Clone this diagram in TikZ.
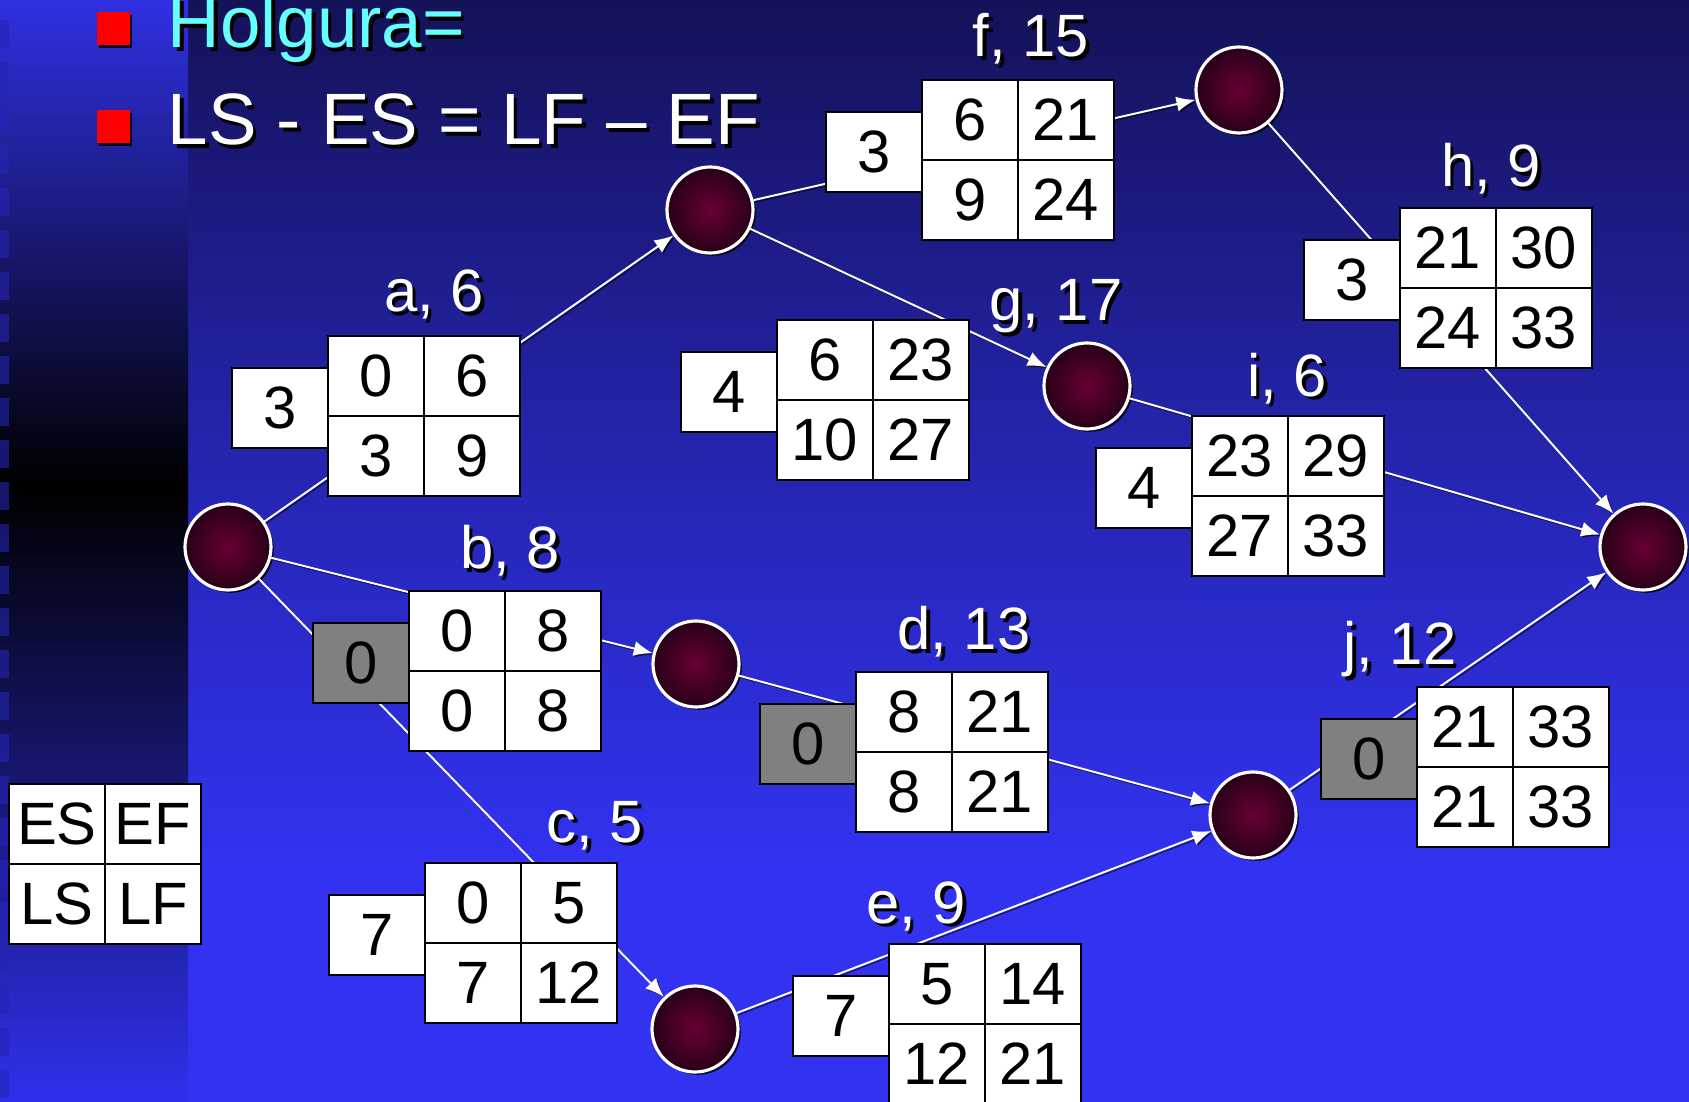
\documentclass[tikz,border=0pt]{standalone}
\usepackage{fontspec}
\setmainfont{Liberation Sans}
\usetikzlibrary{arrows.meta,positioning,shadows}
\definecolor{bgtop}{RGB}{20,18,88}
\definecolor{bgmid}{RGB}{36,36,172}
\definecolor{bgbot}{RGB}{50,50,240}
\definecolor{striptop}{RGB}{48,48,226}
\definecolor{stripbot}{RGB}{48,48,236}
\definecolor{stripmark}{RGB}{36,36,180}
\definecolor{evdark}{RGB}{40,0,24}
\definecolor{evlight}{RGB}{104,0,52}
\definecolor{slackgray}{RGB}{128,128,128}
\definecolor{holgcyan}{RGB}{102,255,255}
% only 25bp..75bp of a shading fills the path
\pgfdeclareverticalshading{slidebg}{100bp}{color(0bp)=(bgbot); color(36bp)=(bgbot); color(55bp)=(bgmid); color(75bp)=(bgtop); color(100bp)=(bgtop)}
\pgfdeclareverticalshading{stripbg}{100bp}{color(0bp)=(stripbot); color(25bp)=(stripbot); color(53bp)=(black); color(75bp)=(striptop); color(100bp)=(striptop)}
\newcommand{\cellfont}{\fontsize{17pt}{20pt}\selectfont}
\newcommand{\headfont}{\fontsize{20.7pt}{24pt}\selectfont}
\newcommand{\shadowtxt}[1]{\rlap{\kern1pt\raisebox{-1pt}{\color{black}#1}}#1}
% one activity: name, top-left corner, slack style, slack, ES, EF, LS, LF
\newcommand{\activity}[8]{%
  \node[cell, anchor=north west] (#1es) at (#2) {#5};
  \node[cell, right=0pt of #1es] (#1ef) {#6};
  \node[cell, below=0pt of #1es] (#1ls) {#7};
  \node[cell, right=0pt of #1ls] (#1lf) {#8};
  \node[#3, anchor=north east] (#1sl) at ([yshift=-3.2mm]#1es.north west) {#4};
}
\tikzset{
  cell/.style   = {rectangle, draw=black, line width=0.7pt, fill=white, inner sep=0pt,
                   outer sep=0pt, minimum width=9.6mm, minimum height=8mm, font=\cellfont},
  crit/.style   = {cell, fill=slackgray},
  event/.style  = {circle, draw=white, line width=0.9pt, inner color=evlight, outer color=evdark,
                   minimum size=8.6mm, inner sep=0pt,
                   drop shadow={shadow xshift=0.8pt, shadow yshift=-0.8pt, fill=black, opacity=0.8}},
  lbl/.style    = {anchor=base, text=white, font=\cellfont, inner sep=0pt},
  head/.style   = {anchor=base west, font=\headfont, inner sep=0pt},
  bullet/.style = {rectangle, fill=red, minimum size=3.3mm, inner sep=0pt,
                   drop shadow={shadow xshift=0.6pt, shadow yshift=-0.6pt, fill=black, opacity=0.8}},
  flow/.style   = {-{Latex[length=1.9mm,width=1.5mm]}, draw=white, line width=0.55pt,
                   preaction={draw=black, opacity=0.5, transform canvas={xshift=0.5pt,yshift=-0.5pt}}},
}

\begin{document}
\begin{tikzpicture}[x=0.1mm, y=-0.1mm]
  \useasboundingbox (0,0) rectangle (1689,1102);
  % slide background
  \shade[shading=slidebg] (0,0) rectangle (1689,1102);
  \shade[shading=stripbg] (0,0) rectangle (188,1102);
  \foreach \y in {20,62,...,1080}
    \fill[stripmark, opacity=0.6] (0,\y) rectangle (9,\y+28);

  % heading
  \node[bullet] (b1) at (113,29) {};
  \node[bullet] (b2) at (113,127) {};
  \node[head, text=holgcyan] (hol) at (167,48) {\shadowtxt{Holgura=}};
  \node[head, text=white] (eq) at (167,145) {\shadowtxt{LS - ES = LF – EF}};

  % events
  \node[event] (n1) at (228,547) {};
  \node[event] (n2) at (710,210) {};
  \node[event] (n3) at (1239,90) {};
  \node[event] (n4) at (1087,386) {};
  \node[event] (n5) at (1643,547) {};
  \node[event] (n6) at (696,664) {};
  \node[event] (n7) at (1253,815) {};
  \node[event] (n8) at (695,1029) {};

  % activities as arrows
  \draw[flow] (n1) -- (n2);
  \draw[flow] (n1) -- (n6);
  \draw[flow] (n1) -- (n8);
  \draw[flow] (n6) -- (n7);
  \draw[flow] (n8) -- (n7);
  \draw[flow] (n2) -- (n3);
  \draw[flow] (n2) -- (n4);
  \draw[flow] (n3) -- (n5);
  \draw[flow] (n4) -- (n5);
  \draw[flow] (n7) -- (n5);

  % boxes
  \activity{a}{328,336}{cell}{3}{0}{6}{3}{9}
  \activity{b}{409,591}{crit}{0}{0}{8}{0}{8}
  \activity{c}{425,863}{cell}{7}{0}{5}{7}{12}
  \activity{d}{856,672}{crit}{0}{8}{21}{8}{21}
  \activity{e}{889,944}{cell}{7}{5}{14}{12}{21}
  \activity{f}{922,80}{cell}{3}{6}{21}{9}{24}
  \activity{g}{777,320}{cell}{4}{6}{23}{10}{27}
  \activity{h}{1400,208}{cell}{3}{21}{30}{24}{33}
  \activity{i}{1192,416}{cell}{4}{23}{29}{27}{33}
  \activity{j}{1417,687}{crit}{0}{21}{33}{21}{33}

  \node[lbl] (la) at (434,312) {\shadowtxt{a, 6}};
  \node[lbl] (lb) at (510,569) {\shadowtxt{b, 8}};
  \node[lbl] (lc) at (595,842) {\shadowtxt{c, 5}};
  \node[lbl] (ld) at (964,650) {\shadowtxt{d, 13}};
  \node[lbl] (le) at (916,923) {\shadowtxt{e, 9}};
  \node[lbl] (lf) at (1031,57) {\shadowtxt{f, 15}};
  \node[lbl] (lg) at (1056,321) {\shadowtxt{g, 17}};
  \node[lbl] (lh) at (1491,187) {\shadowtxt{h, 9}};
  \node[lbl] (li) at (1287,396) {\shadowtxt{i, 6}};
  \node[lbl] (lj) at (1400,665) {\shadowtxt{j, 12}};

  % key
  \node[cell, anchor=north west] (kes) at (9,784) {ES};
  \node[cell, right=0pt of kes] (kef) {EF};
  \node[cell, below=0pt of kes] (kls) {LS};
  \node[cell, right=0pt of kls] (klf) {LF};
\end{tikzpicture}
\end{document}
